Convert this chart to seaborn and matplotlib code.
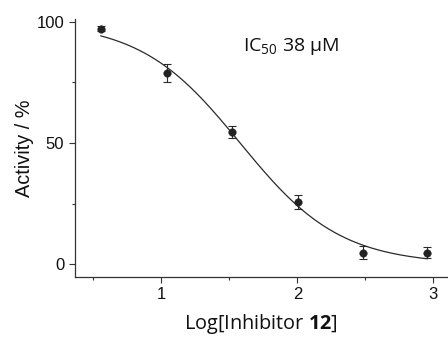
import numpy as np
import pandas as pd
import matplotlib
matplotlib.use("Agg")
import matplotlib.pyplot as plt
import seaborn as sns

# Data
log_conc = [0.554, 1.042, 1.52, 2.003, 2.48, 2.956]
activity = [97.1, 78.7, 54.4, 25.7, 4.9, 4.9]
errors = [1.0, 3.7, 2.5, 2.9, 2.7, 2.4]

# Four-parameter logistic fit parameters (dose-response)
fit_top = 100.0
fit_bottom = 0.0
fit_logic50 = 1.58
fit_hill = 1.18

x_ticks = [1, 2, 3]
y_ticks = [0, 50, 100]
x_label_plain = "Log[Inhibitor "
x_label_bold = "12"
y_label = "Activity / %"
annotation = r"IC$_{50}$ 38 µM"

sns.set_theme(style="ticks")
plt.rcParams["font.family"] = ["Liberation Sans", "DejaVu Sans"]
plt.rcParams["mathtext.fontset"] = "custom"
plt.rcParams["mathtext.rm"] = "Open Sans"
plt.rcParams["mathtext.bf"] = "Open Sans:bold"
plt.rcParams["mathtext.default"] = "regular"

fig = plt.figure(figsize=(4.48, 3.41), dpi=100)
ax = fig.add_axes([0.1667, 0.189, 0.8333, 0.755])

xs = np.linspace(min(log_conc), max(log_conc), 200)
ys = fit_bottom + (fit_top - fit_bottom) / (1 + 10 ** ((xs - fit_logic50) * fit_hill))
curve = pd.DataFrame({"x": xs, "y": ys})
sns.lineplot(data=curve, x="x", y="y", ax=ax, color="#2a2a2a", linewidth=0.9)

pts = pd.DataFrame({"x": log_conc, "y": activity})
ax.errorbar(log_conc, activity, yerr=errors, fmt="none", ecolor="#2a2a2a",
            elinewidth=0.8, capsize=2.6, capthick=0.8, zorder=3)
sns.scatterplot(data=pts, x="x", y="y", ax=ax, color="#222222", s=30,
                edgecolor="#222222", linewidth=0.3, zorder=4)

ax.set_xlim(0.363, 3.108)
ax.set_ylim(-5.0, 101.1)
ax.set_xticks(x_ticks)
ax.set_yticks(y_ticks)
ax.set_xticks([0.5, 1.5, 2.5], minor=True)
ax.set_yticks([25, 75], minor=True)
ax.tick_params(axis="both", which="major", length=4, width=0.8, color="#333333",
               labelsize=12, labelcolor="#111111", pad=3.5, direction="out")
ax.tick_params(axis="both", which="minor", length=2, width=0.8, color="#333333",
               direction="out")
for s in ["top", "right"]:
    ax.spines[s].set_visible(False)
for s in ["left", "bottom"]:
    ax.spines[s].set_linewidth(0.9)
    ax.spines[s].set_color("#333333")

ax.set_xlabel(x_label_plain + r"$\mathbf{" + x_label_bold + r"}$]",
              family="Open Sans", fontsize=14.3, color="#111111", labelpad=7)
ax.set_ylabel(y_label, fontsize=14.3, color="#111111", labelpad=2)

ax.text(1.60, 89.8, annotation, family="Open Sans", fontsize=14, color="#111111",
        va="center", ha="left")

fig.savefig("out.png", dpi=100)
